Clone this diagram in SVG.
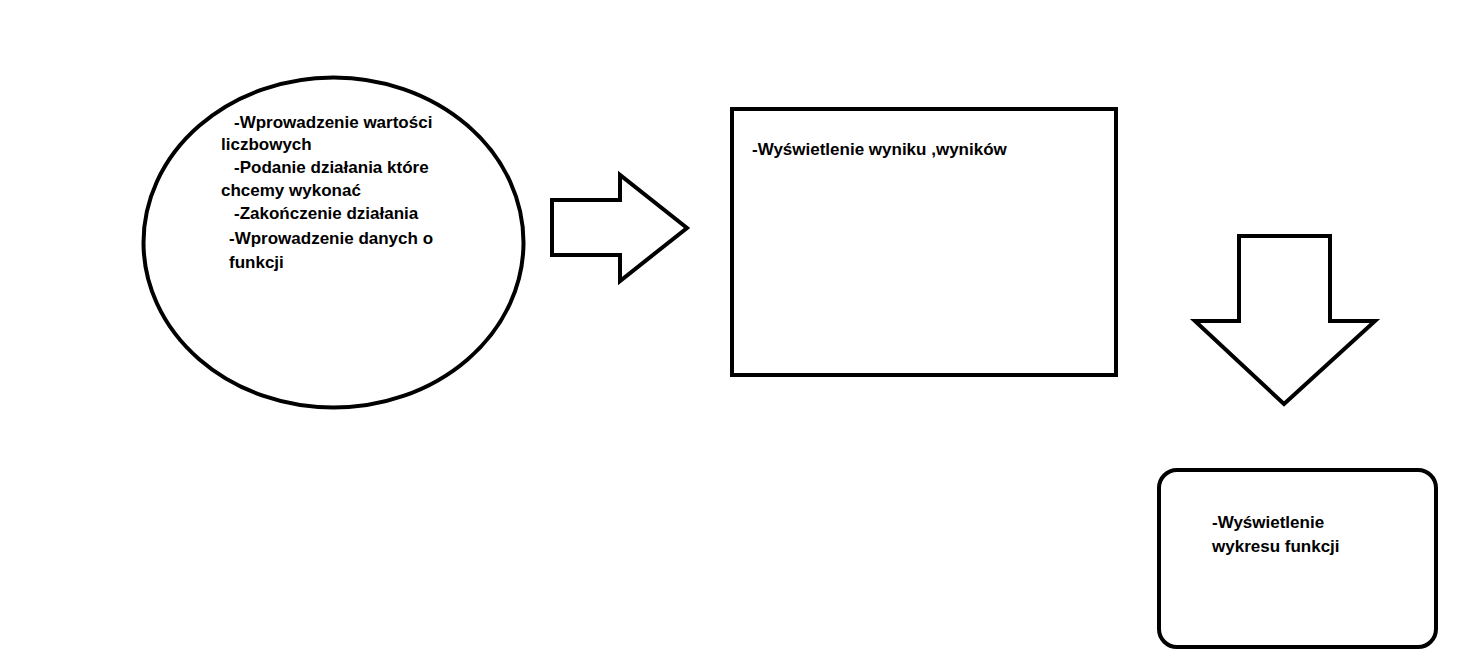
<svg xmlns="http://www.w3.org/2000/svg" width="1460" height="665" viewBox="0 0 1460 665">
<style>
.shape{fill:#fff;stroke:#000;stroke-width:4;stroke-linejoin:miter}
.t{font-family:"Liberation Sans",Arial,sans-serif;font-weight:bold;font-size:17px;fill:#000}
</style>
<rect width="1460" height="665" fill="#fff"/>
<g id="node-input">
<ellipse class="shape" cx="333.5" cy="242.5" rx="190" ry="165"/>
<text class="t" x="234" y="128">-Wprowadzenie wartości</text>
<text class="t" x="221" y="150">liczbowych</text>
<text class="t" x="234" y="173">-Podanie działania które</text>
<text class="t" x="221" y="196">chcemy wykonać</text>
<text class="t" x="234" y="219">-Zakończenie działania</text>
<text class="t" x="229" y="244">-Wprowadzenie danych o</text>
<text class="t" x="229" y="268">funkcji</text>
</g>
<g id="node-result">
<rect class="shape" x="732" y="109" width="384" height="266"/>
<text class="t" x="752" y="155">-Wyświetlenie wyniku ,wyników</text>
</g>
<g id="node-graph">
<rect class="shape" x="1159" y="470" width="277" height="177" rx="18" ry="18"/>
<text class="t" x="1212" y="528">-Wyświetlenie</text>
<text class="t" x="1212" y="552">wykresu funkcji</text>
</g>
<g id="connectors">
<path class="shape" d="M552,200 L620,200 L620,175 L687,228 L620,281 L620,255 L552,255 Z"/>
<path class="shape" d="M1239,236 L1330,236 L1330,321 L1375,321 L1284,404 L1195,321 L1239,321 Z"/>
</g>
</svg>
